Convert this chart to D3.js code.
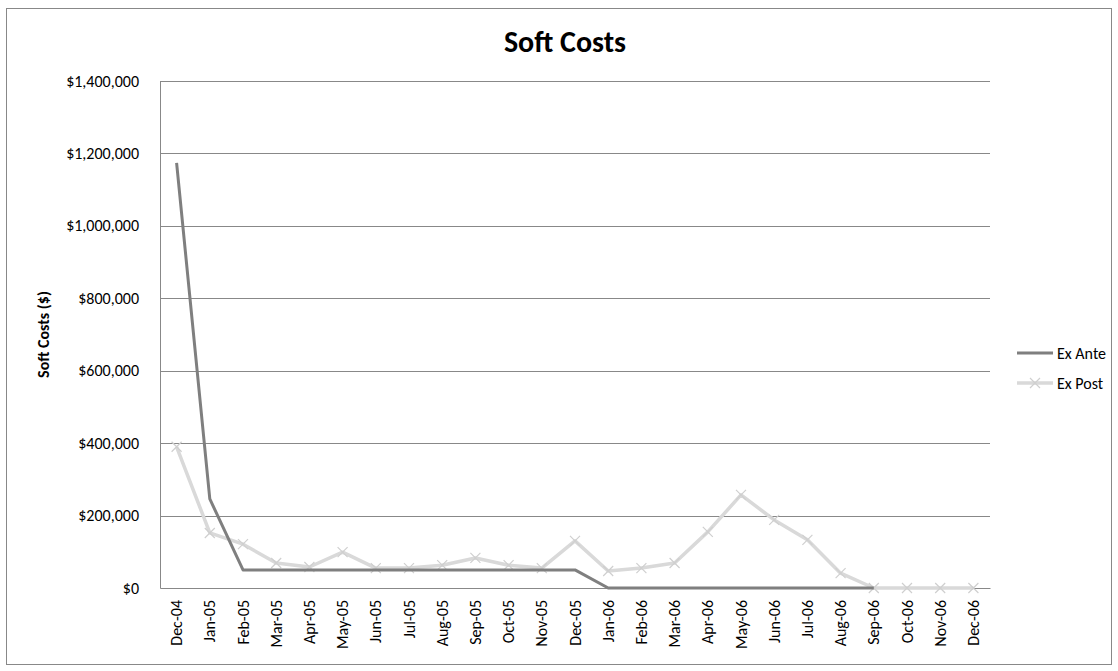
<!DOCTYPE html>
<html>
<head>
<meta charset="utf-8">
<script src="https://cdn.jsdelivr.net/npm/d3@7"></script>
<style>
  body { margin: 0; background: #fff; }
  text { font-family: Carlito, Lato, "Open Sans", sans-serif; }
</style>
</head>
<body>
<svg id="chart"></svg>
<script>
// months along the x axis
const months = ["Dec-04","Jan-05","Feb-05","Mar-05","Apr-05","May-05","Jun-05","Jul-05","Aug-05",
  "Sep-05","Oct-05","Nov-05","Dec-05","Jan-06","Feb-06","Mar-06","Apr-06","May-06","Jun-06",
  "Jul-06","Aug-06","Sep-06","Oct-06","Nov-06","Dec-06"];

// Ex Ante stops at Sep-06
const exAnte = [1174000, 246000, 50000, 50000, 50000, 50000, 50000, 50000, 50000,
  50000, 50000, 50000, 50000, 0, 0, 0, 0, 0, 0, 0, 0, 0, null, null, null];

const exPost = [390000, 152000, 121000, 69000, 58000, 99000, 55000, 55000, 63000,
  83000, 63000, 55000, 130000, 47000, 55000, 69000, 155000, 257000, 188000,
  133000, 41000, 0, 0, 0, 0];

const yTicks = [0, 200000, 400000, 600000, 800000, 1000000, 1200000, 1400000];

const width = 1118, height = 671;
const margin = {top: 81, right: 128, bottom: 83, left: 160};
const w = width - margin.left - margin.right;
const h = height - margin.top - margin.bottom;

const svg = d3.select('#chart')
    .attr('width', width)
    .attr('height', height);

// outer chart frame
svg.append('rect')
    .attr('x', 6.5).attr('y', 8.5)
    .attr('width', 1105).attr('height', 656)
    .attr('fill', 'none')
    .attr('stroke', '#888');

const chart = svg.append('g')
    .attr('transform', `translate(${margin.left},${margin.top})`);

const xScale = d3.scaleBand()
    .domain(months)
    .range([0, w]);

const yScale = d3.scaleLinear()
    .domain([0, 1400000])
    .range([h, 0]);

const xPos = d => xScale(d) + xScale.bandwidth() / 2;

// gridlines
chart.append('g')
    .selectAll('line')
    .data(yTicks.slice(1))
  .join('line')
    .attr('x1', 0).attr('x2', w)
    .attr('y1', d => Math.round(yScale(d)) + 0.5)
    .attr('y2', d => Math.round(yScale(d)) + 0.5)
    .attr('stroke', '#888');

// y axis
const yAxisG = chart.append('g')
    .call(d3.axisLeft(yScale).tickValues(yTicks).tickSize(0).tickPadding(21)
      .tickFormat(d => '$' + d3.format(',')(d)));
yAxisG.select('.domain').attr('stroke', '#888');
yAxisG.selectAll('text').attr('font-size', 16).attr('fill', '#000');

// x axis
const xAxisG = chart.append('g')
    .attr('transform', `translate(0,${h})`)
    .call(d3.axisBottom(xScale).tickSize(0).tickSizeOuter(0));
xAxisG.select('.domain').attr('stroke', '#888');
xAxisG.selectAll('text')
    .attr('font-size', 16)
    .attr('fill', '#000')
    .attr('transform', 'rotate(-90)')
    .attr('text-anchor', 'end')
    .attr('x', -12)
    .attr('y', 0)
    .attr('dy', '0.35em');

const line = d3.line()
    .defined(d => d.v != null)
    .x(d => xPos(d.m))
    .y(d => yScale(d.v));

const anteData = months.map((m, i) => ({m, v: exAnte[i]}));
const postData = months.map((m, i) => ({m, v: exPost[i]}));

chart.append('path')
    .datum(postData)
    .attr('d', line)
    .attr('fill', 'none')
    .attr('stroke', '#d9d9d9')
    .attr('stroke-width', 3.5)
    .attr('stroke-linejoin', 'round');

// x markers
const mk = 5;
chart.append('g')
    .selectAll('path')
    .data(postData)
  .join('path')
    .attr('transform', d => `translate(${xPos(d.m)},${yScale(d.v)})`)
    .attr('d', `M${-mk},${-mk}L${mk},${mk}M${-mk},${mk}L${mk},${-mk}`)
    .attr('stroke', '#cfcfcf')
    .attr('stroke-width', 1.2);

chart.append('path')
    .datum(anteData)
    .attr('d', line)
    .attr('fill', 'none')
    .attr('stroke', '#7f7f7f')
    .attr('stroke-width', 3)
    .attr('stroke-linejoin', 'round');

// title
svg.append('text')
    .attr('x', 565).attr('y', 52)
    .attr('text-anchor', 'middle')
    .attr('font-size', 30)
    .attr('font-weight', 'bold')
    .text('Soft Costs');

// y axis title
svg.append('text')
    .attr('transform', `translate(43,${margin.top + h / 2}) rotate(-90)`)
    .attr('text-anchor', 'middle')
    .attr('dy', '0.35em')
    .attr('font-size', 16)
    .attr('font-weight', 'bold')
    .text('Soft Costs ($)');

// legend
const legend = svg.append('g').attr('transform', 'translate(1017,353)');
legend.append('line')
    .attr('x1', 0).attr('x2', 36).attr('y1', 0).attr('y2', 0)
    .attr('stroke', '#7f7f7f').attr('stroke-width', 3);
legend.append('text')
    .attr('x', 40).attr('y', 0).attr('dy', '0.35em')
    .attr('font-size', 16)
    .text('Ex Ante');
legend.append('line')
    .attr('x1', 0).attr('x2', 36).attr('y1', 30).attr('y2', 30)
    .attr('stroke', '#d9d9d9').attr('stroke-width', 3.5);
legend.append('path')
    .attr('transform', 'translate(18,30)')
    .attr('d', `M${-mk},${-mk}L${mk},${mk}M${-mk},${mk}L${mk},${-mk}`)
    .attr('stroke', '#cfcfcf').attr('stroke-width', 1.2);
legend.append('text')
    .attr('x', 40).attr('y', 30).attr('dy', '0.35em')
    .attr('font-size', 16)
    .text('Ex Post');
</script>
</body>
</html>
